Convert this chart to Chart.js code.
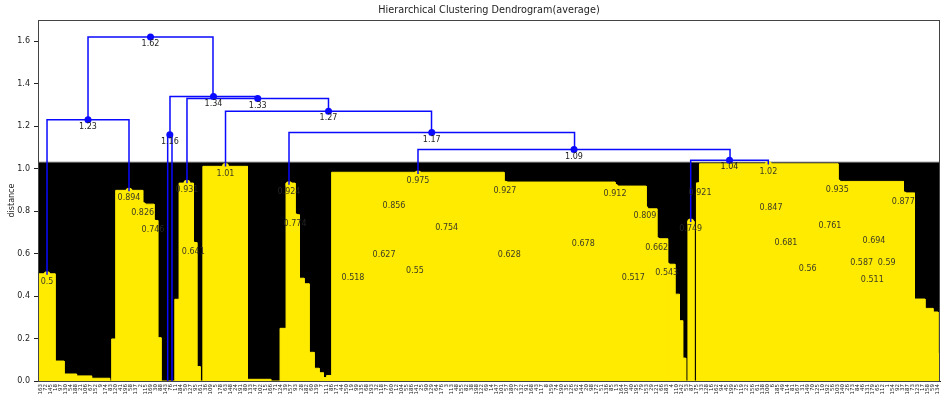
<!DOCTYPE html>
<html>
<head>
<meta charset="utf-8">
<script src="https://cdn.jsdelivr.net/npm/chart.js@4/dist/chart.umd.min.js"></script>
<style>
  html, body { margin: 0; padding: 0; background: #fff; }
  canvas { display: block; }
</style>
</head>
<body>
<canvas id="dendro" width="941" height="399"></canvas>
<script>
// Leaf order along the x axis (sample ids)
const leafIds = [
  163, 72, 145, 18, 97, 130, 54, 188, 21, 106, 67, 152, 9, 174, 83, 120, 41, 196, 58, 137,
  2, 115, 169, 30, 88, 143, 76, 11, 184, 50, 127, 95, 161, 36, 109, 5, 178, 63, 148, 24,
  191, 80, 133, 47, 102, 15, 166, 71, 124, 39, 157, 93, 28, 182, 60, 139, 7, 111, 86, 171,
  44, 150, 19, 99, 135, 68, 193, 32, 118, 77, 160, 12, 104, 55, 186, 141, 25, 90, 129, 64,
  176, 3, 113, 48, 155, 82, 38, 198, 122, 69, 14, 147, 101, 57, 180, 27, 132, 91, 168, 43,
  117, 8, 159, 74, 190, 35, 126, 62, 144, 20, 98, 172, 51, 136, 85, 13, 164, 107, 40, 195,
  79, 153, 29, 121, 66, 183, 4, 110, 142, 53, 87, 175, 33, 128, 16, 162, 94, 45, 199, 75,
  119, 22, 156, 61, 138, 100, 6, 185, 49, 114, 81, 167, 31, 149, 70, 125, 10, 192, 56, 103,
  140, 26, 173, 84, 46, 131, 179, 65, 112, 1, 154, 92, 37, 187, 73, 123, 17, 158, 59, 134
];

const yTickValues = [0.0, 0.2, 0.4, 0.6, 0.8, 1.0, 1.2, 1.4, 1.6];
const cutHeight = 1.03;

// Links above the cut (U shapes: left leg, bar at merge height, right leg)
const linkLeftX    = [1.8,   25.88, 26.34, 29.73, 37.42, 50.09, 75.83,  130.25, 9.98];
const linkRightX   = [18.16, 26.74, 43.7,  57.97, 78.53, 107.07, 138.1, 145.74, 34.92];
const linkLeftLow  = [0.5,   0,     1.16,  0.931, 1.01,  0.924, 0.975,  0.749,  1.23];
const linkRightLow = [0.894, 0,     1.33,  1.27,  1.17,  1.09,  1.04,   1.02,   1.34];
const linkHeight   = [1.23,  1.16,  1.34,  1.33,  1.27,  1.17,  1.09,   1.04,   1.62];

// Merges below the cut (position along the leaves, merge distance)
const innerX = [
  1.8, 18.16, 20.89, 22.95, 29.73, 30.99, 37.42, 50.09, 51.29,
  75.83, 71.04, 69.05, 62.86, 75.23, 81.56, 93.19, 94.05, 108.82,
  115.15, 118.8, 121.13, 123.47, 125.46, 130.25, 132.11, 145.74, 146.28,
  159.5, 149.27, 158.05, 153.6, 166.83, 164.37, 169.36, 166.49, 172.68
];
const innerHeight = [
  0.5, 0.894, 0.826, 0.746, 0.931, 0.641, 1.01, 0.924, 0.774,
  0.975, 0.856, 0.627, 0.518, 0.55, 0.754, 0.927, 0.628, 0.678,
  0.912, 0.517, 0.809, 0.662, 0.543, 0.749, 0.921, 1.02, 0.847,
  0.935, 0.681, 0.761, 0.56, 0.694, 0.587, 0.59, 0.511, 0.877
];

// Outline of the clusters below the cut: [from leaf, to leaf, height]
const fillRuns = [
  [0, 3.4, 0.505], [3.4, 5.2, 0.094], [5.2, 7.7, 0.033], [7.7, 10.7, 0.024], [10.7, 14.3, 0.013],
  [14.7, 15.5, 0.198], [15.5, 20.9, 0.898], [20.9, 23.15, 0.833], [23.15, 23.9, 0.756], [23.9, 24.55, 0.204],
  [27.3, 28.15, 0.385], [28.15, 31.0, 0.932], [31.0, 31.7, 0.652], [31.7, 32.35, 0.068],
  [32.9, 41.8, 1.011], [41.8, 46.45, 0.008],
  [48.3, 49.5, 0.248], [49.5, 51.3, 0.932], [51.3, 52.15, 0.783], [52.15, 53.1, 0.484], [53.1, 54.1, 0.458],
  [54.1, 55.1, 0.135], [55.1, 56.1, 0.06], [56.1, 56.95, 0.039], [56.95, 57.6, 0.016], [57.6, 58.6, 0.026],
  [58.6, 93.0, 0.983], [93.0, 115.15, 0.937], [115.15, 121.35, 0.918], [121.35, 123.5, 0.811],
  [123.5, 125.65, 0.67], [125.65, 127.1, 0.55], [127.1, 128.0, 0.409], [128.0, 128.65, 0.284], [128.65, 129.25, 0.108],
  [129.7, 130.9, 0.752],
  [131.4, 132.0, 0.933], [132.0, 159.65, 1.023], [159.65, 172.7, 0.94], [172.7, 174.9, 0.886],
  [174.9, 177.0, 0.386], [177.0, 178.6, 0.342], [178.6, 179.6, 0.325], [179.6, 180, 0.13]
];

const BLUE = '#0a0aff';
const YELLOW = '#ffeb00';
const nLeaves = leafIds.length;

// build chart datasets from the arrays above
const yellowPts = [];
fillRuns.forEach(([a, b, h]) => {
  yellowPts.push({ x: a, y: 0 }, { x: a, y: h }, { x: b, y: h }, { x: b, y: 0 });
});

const bluePts = [];
const blueTops = [];
linkHeight.forEach((h, i) => {
  const l = linkLeftX[i], r = linkRightX[i];
  bluePts.push({ x: l, y: linkLeftLow[i] }, { x: l, y: h }, { x: r, y: h }, { x: r, y: linkRightLow[i] }, { x: r, y: null });
  blueTops.push({ x: (l + r) / 2, y: h });
});

const innerTops = innerX.map((x, i) => ({ x: x, y: innerHeight[i] }));

const fmt = v => String(Number(v.toPrecision(3)));

// merge distance written just under each merge point
const mergeLabels = {
  id: 'mergeLabels',
  afterDatasetsDraw(chart) {
    const { ctx, scales: { x, y } } = chart;
    ctx.save();
    ctx.font = '8px "DejaVu Sans"';
    ctx.textAlign = 'center';
    ctx.textBaseline = 'top';
    innerTops.forEach(p => {
      ctx.fillStyle = 'rgba(40,40,40,0.9)';
      ctx.fillText(fmt(p.y), x.getPixelForValue(p.x), y.getPixelForValue(p.y) + 3);
    });
    blueTops.forEach(p => {
      ctx.fillStyle = '#222';
      ctx.fillText(fmt(p.y), x.getPixelForValue(p.x), y.getPixelForValue(p.y) + 3);
    });
    ctx.restore();
  }
};

// box around the plot area
const frame = {
  id: 'frame',
  afterDraw(chart) {
    const { ctx, chartArea: a } = chart;
    ctx.save();
    ctx.strokeStyle = '#444';
    ctx.lineWidth = 1;
    ctx.strokeRect(Math.round(a.left) + 0.5, Math.round(a.top) + 0.5, Math.round(a.right - a.left) - 1, Math.round(a.bottom - a.top));
    ctx.restore();
  }
};

new Chart(document.getElementById('dendro'), {
  type: 'line',
  data: {
    datasets: [
      {
        label: 'cut',
        data: [{ x: 0, y: cutHeight }, { x: nLeaves, y: cutHeight }],
        fill: 'origin',
        backgroundColor: '#000',
        borderColor: '#555',
        borderWidth: 1.2,
        pointRadius: 0,
        order: 6
      },
      {
        label: 'clusters',
        data: yellowPts,
        fill: 'origin',
        backgroundColor: YELLOW,
        borderColor: YELLOW,
        borderWidth: 1,
        pointRadius: 0,
        tension: 0,
        order: 5
      },
      {
        label: 'inner merges',
        data: innerTops,
        showLine: false,
        pointRadius: 3.5,
        pointBackgroundColor: YELLOW,
        pointBorderColor: YELLOW,
        pointBorderWidth: 0,
        order: 4
      },
      {
        label: 'links',
        data: bluePts,
        borderColor: BLUE,
        borderWidth: 1.5,
        pointRadius: 0,
        spanGaps: false,
        fill: false,
        tension: 0,
        order: 3
      },
      {
        label: 'merges',
        data: blueTops,
        showLine: false,
        pointRadius: 3.5,
        pointBackgroundColor: BLUE,
        pointBorderColor: BLUE,
        pointBorderWidth: 0,
        order: 2
      }
    ]
  },
  options: {
    responsive: false,
    animation: false,
    devicePixelRatio: 1,
    events: [],
    layout: { autoPadding: false, padding: { left: 0, right: 1, top: 0, bottom: 0 } },
    plugins: {
      legend: { display: false },
      tooltip: { enabled: false },
      title: {
        display: true,
        fullSize: false,
        text: 'Hierarchical Clustering Dendrogram(average)',
        color: '#222',
        font: { family: 'DejaVu Sans', size: 9.7, weight: 'normal' },
        padding: { top: 5, bottom: 3.4 }
      }
    },
    scales: {
      x: {
        type: 'linear',
        min: 0,
        max: nLeaves,
        afterBuildTicks: s => { s.ticks = leafIds.map((id, i) => ({ value: i + 0.5 })); },
        afterFit: s => { s.height = 18; s.paddingLeft = 0; s.paddingRight = 0; },
        grid: { display: true, drawOnChartArea: false, drawTicks: false, tickLength: 0, color: '#333' },
        border: { display: true, color: '#222', width: 1 },
        ticks: {
          autoSkip: false,
          minRotation: 90,
          maxRotation: 90,
          padding: 3,
          color: '#222',
          font: { family: 'DejaVu Sans', size: 5.5 },
          callback: (v, i) => String(leafIds[i])
        }
      },
      y: {
        type: 'linear',
        min: 0,
        max: 1.7,
        afterBuildTicks: s => { s.ticks = yTickValues.map(v => ({ value: v })); },
        afterFit: s => { s.width = 38; s.paddingTop = 0; s.paddingBottom = 0; },
        grid: { display: true, drawOnChartArea: false, drawTicks: true, tickLength: 4, color: '#222' },
        border: { display: true, color: '#222', width: 1 },
        title: {
          display: true,
          text: 'distance',
          color: '#222',
          font: { family: 'DejaVu Sans', size: 8 },
          padding: { top: 7, bottom: 0 }
        },
        ticks: {
          padding: 4,
          color: '#222',
          font: { family: 'DejaVu Sans', size: 8 },
          callback: v => v.toFixed(1)
        }
      }
    }
  },
  plugins: [mergeLabels, frame]
});
</script>
</body>
</html>
